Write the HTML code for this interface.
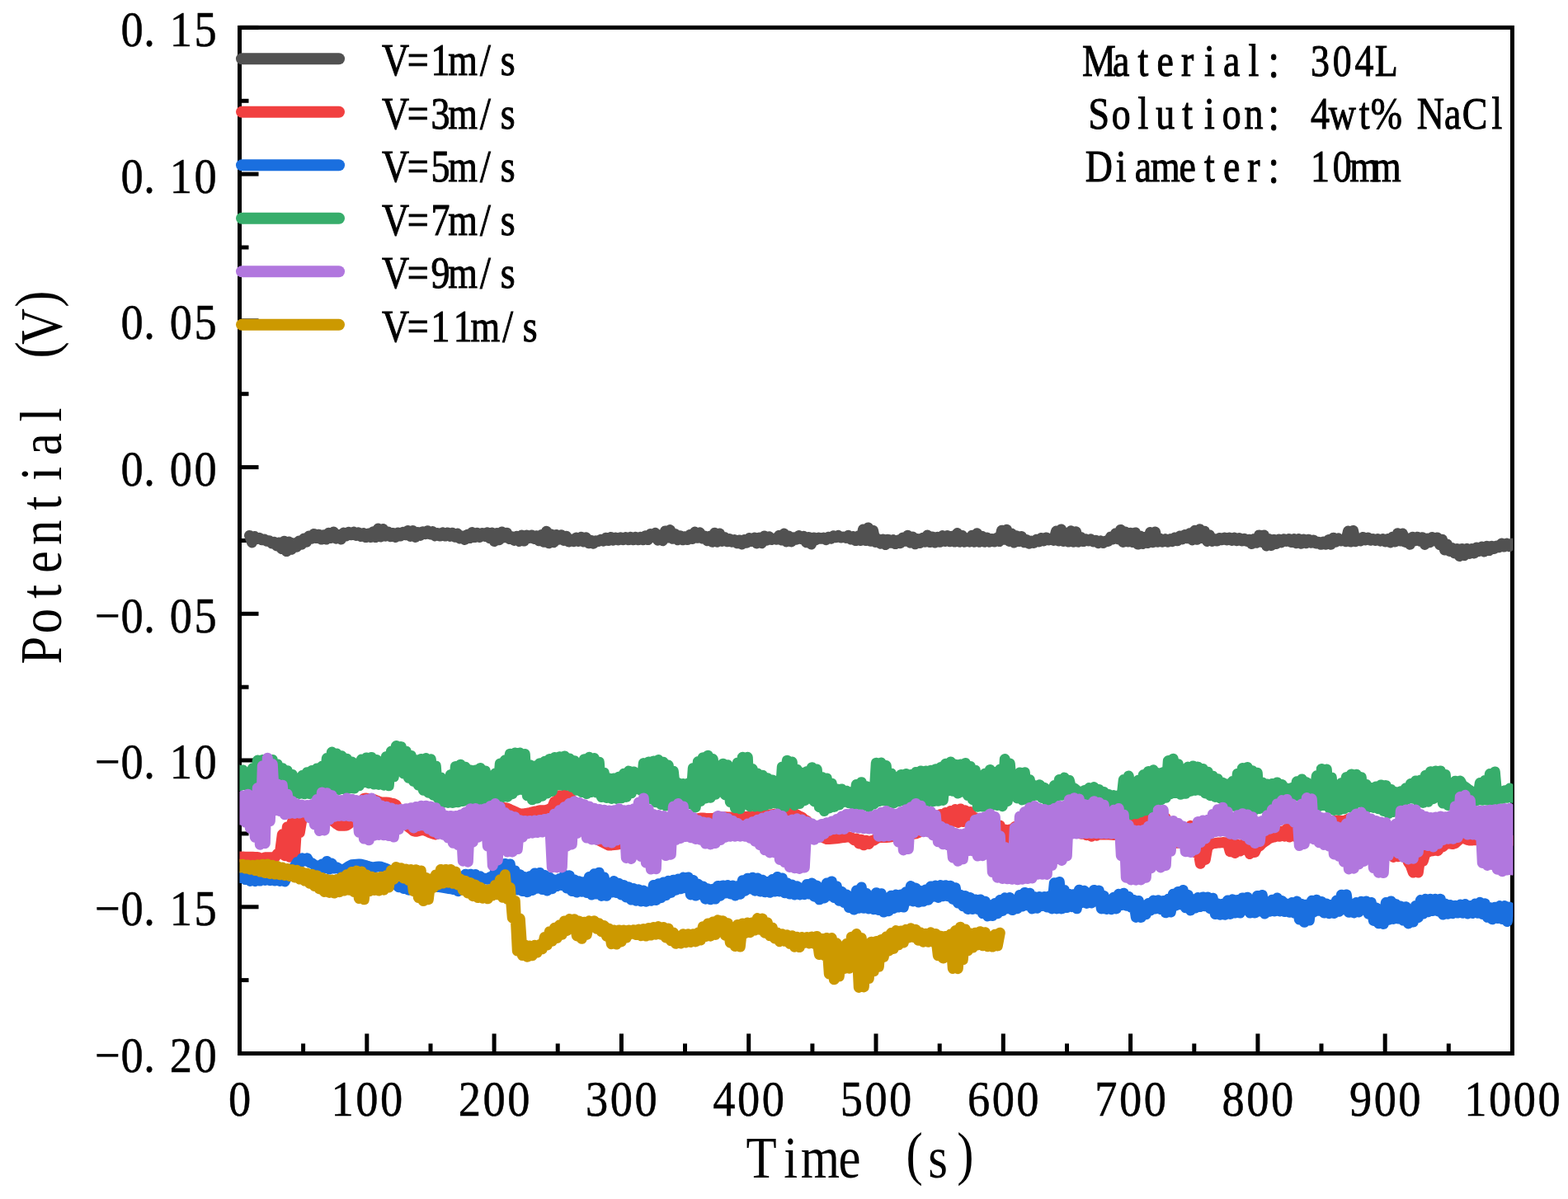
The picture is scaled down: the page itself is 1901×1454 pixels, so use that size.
<!DOCTYPE html>
<html><head><meta charset="utf-8"><title>Potential vs Time</title>
<style>html,body{margin:0;padding:0;background:#fff;overflow:hidden}svg{display:block}</style>
</head><body>
<svg width="1901" height="1454" viewBox="0 0 1901 1454">
<rect width="100%" height="100%" fill="#fff"/>
<rect x="290.5" y="33.4" width="1543.0" height="1244.1" fill="none" stroke="#000" stroke-width="5.0"/>
<line x1="290.5" y1="33.4" x2="313.5" y2="33.4" stroke="#000" stroke-width="5.0"/>
<line x1="290.5" y1="122.3" x2="301.5" y2="122.3" stroke="#000" stroke-width="5.0"/>
<line x1="290.5" y1="211.1" x2="313.5" y2="211.1" stroke="#000" stroke-width="5.0"/>
<line x1="290.5" y1="300.0" x2="301.5" y2="300.0" stroke="#000" stroke-width="5.0"/>
<line x1="290.5" y1="388.9" x2="313.5" y2="388.9" stroke="#000" stroke-width="5.0"/>
<line x1="290.5" y1="477.7" x2="301.5" y2="477.7" stroke="#000" stroke-width="5.0"/>
<line x1="290.5" y1="566.6" x2="313.5" y2="566.6" stroke="#000" stroke-width="5.0"/>
<line x1="290.5" y1="655.5" x2="301.5" y2="655.5" stroke="#000" stroke-width="5.0"/>
<line x1="290.5" y1="744.3" x2="313.5" y2="744.3" stroke="#000" stroke-width="5.0"/>
<line x1="290.5" y1="833.2" x2="301.5" y2="833.2" stroke="#000" stroke-width="5.0"/>
<line x1="290.5" y1="922.0" x2="313.5" y2="922.0" stroke="#000" stroke-width="5.0"/>
<line x1="290.5" y1="1010.9" x2="301.5" y2="1010.9" stroke="#000" stroke-width="5.0"/>
<line x1="290.5" y1="1099.8" x2="313.5" y2="1099.8" stroke="#000" stroke-width="5.0"/>
<line x1="290.5" y1="1188.6" x2="301.5" y2="1188.6" stroke="#000" stroke-width="5.0"/>
<line x1="290.5" y1="1277.5" x2="313.5" y2="1277.5" stroke="#000" stroke-width="5.0"/>
<line x1="290.5" y1="1277.5" x2="290.5" y2="1253.5" stroke="#000" stroke-width="5.0"/>
<line x1="367.6" y1="1277.5" x2="367.6" y2="1265.5" stroke="#000" stroke-width="5.0"/>
<line x1="444.8" y1="1277.5" x2="444.8" y2="1253.5" stroke="#000" stroke-width="5.0"/>
<line x1="522.0" y1="1277.5" x2="522.0" y2="1265.5" stroke="#000" stroke-width="5.0"/>
<line x1="599.1" y1="1277.5" x2="599.1" y2="1253.5" stroke="#000" stroke-width="5.0"/>
<line x1="676.2" y1="1277.5" x2="676.2" y2="1265.5" stroke="#000" stroke-width="5.0"/>
<line x1="753.4" y1="1277.5" x2="753.4" y2="1253.5" stroke="#000" stroke-width="5.0"/>
<line x1="830.5" y1="1277.5" x2="830.5" y2="1265.5" stroke="#000" stroke-width="5.0"/>
<line x1="907.7" y1="1277.5" x2="907.7" y2="1253.5" stroke="#000" stroke-width="5.0"/>
<line x1="984.9" y1="1277.5" x2="984.9" y2="1265.5" stroke="#000" stroke-width="5.0"/>
<line x1="1062.0" y1="1277.5" x2="1062.0" y2="1253.5" stroke="#000" stroke-width="5.0"/>
<line x1="1139.2" y1="1277.5" x2="1139.2" y2="1265.5" stroke="#000" stroke-width="5.0"/>
<line x1="1216.3" y1="1277.5" x2="1216.3" y2="1253.5" stroke="#000" stroke-width="5.0"/>
<line x1="1293.5" y1="1277.5" x2="1293.5" y2="1265.5" stroke="#000" stroke-width="5.0"/>
<line x1="1370.6" y1="1277.5" x2="1370.6" y2="1253.5" stroke="#000" stroke-width="5.0"/>
<line x1="1447.8" y1="1277.5" x2="1447.8" y2="1265.5" stroke="#000" stroke-width="5.0"/>
<line x1="1524.9" y1="1277.5" x2="1524.9" y2="1253.5" stroke="#000" stroke-width="5.0"/>
<line x1="1602.0" y1="1277.5" x2="1602.0" y2="1265.5" stroke="#000" stroke-width="5.0"/>
<line x1="1679.2" y1="1277.5" x2="1679.2" y2="1253.5" stroke="#000" stroke-width="5.0"/>
<line x1="1756.3" y1="1277.5" x2="1756.3" y2="1265.5" stroke="#000" stroke-width="5.0"/>
<line x1="1833.5" y1="1277.5" x2="1833.5" y2="1253.5" stroke="#000" stroke-width="5.0"/>
<defs><clipPath id="pc"><rect x="290.5" y="0" width="1544" height="1454"/></clipPath></defs><g clip-path="url(#pc)">
<polyline points="302.5,649.4 305.5,657.9 308.5,650.4 311.5,653.5 314.5,652.3 317.5,654.8 320.5,654.0 323.5,656.2 326.5,655.7 329.5,658.9 332.5,657.2 335.5,661.9 338.5,657.9 341.5,665.6 344.5,656.2 347.5,668.6 350.5,657.0 353.5,666.2 356.5,658.8 359.5,663.3 362.5,655.9 365.5,660.3 368.5,652.9 371.5,657.3 374.5,649.9 377.5,653.3 380.5,647.4 383.5,652.6 386.5,648.2 389.5,654.1 392.5,648.8 395.5,654.0 398.5,646.2 401.5,652.5 404.5,645.0 407.5,653.2 410.5,648.5 413.5,654.0 416.5,646.1 419.5,650.0 422.5,645.3 425.5,648.8 428.5,645.1 431.5,649.4 434.5,645.8 437.5,650.6 440.5,646.6 443.5,651.6 446.5,647.1 449.5,651.6 452.5,644.7 455.5,651.6 458.5,641.0 461.5,651.1 464.5,641.5 467.5,650.2 470.5,645.0 473.5,650.8 476.5,646.4 479.5,651.5 482.5,646.0 485.5,650.0 488.5,645.3 491.5,648.8 494.5,643.6 497.5,650.4 500.5,643.5 503.5,651.4 506.5,645.6 509.5,649.4 512.5,644.8 515.5,647.7 518.5,643.8 521.5,647.9 524.5,644.5 527.5,649.9 530.5,646.4 533.5,650.1 536.5,645.8 539.5,650.1 542.5,645.9 545.5,650.4 548.5,646.2 551.5,651.3 554.5,647.1 557.5,653.0 560.5,650.1 563.5,654.5 566.5,648.3 569.5,652.6 572.5,645.6 575.5,651.6 578.5,646.3 581.5,651.4 584.5,646.5 587.5,650.4 590.5,645.8 593.5,652.7 596.5,646.1 599.5,656.6 602.5,646.4 605.5,654.7 608.5,644.9 611.5,651.7 614.5,646.3 617.5,653.5 620.5,650.8 623.5,655.4 626.5,650.2 629.5,656.5 632.5,649.1 635.5,656.1 638.5,648.9 641.5,652.6 644.5,648.9 647.5,653.5 650.5,649.7 653.5,655.8 656.5,648.6 659.5,657.3 662.5,644.3 665.5,658.8 668.5,648.0 671.5,657.7 674.5,648.4 677.5,654.2 680.5,648.8 683.5,655.4 686.5,650.2 689.5,657.0 692.5,654.3 695.5,656.7 698.5,652.1 701.5,656.5 704.5,651.2 707.5,657.0 710.5,651.8 713.5,658.8 716.5,655.3 719.5,659.2 722.5,655.8 725.5,656.4 728.5,654.3 731.5,656.0 734.5,652.3 737.5,655.6 740.5,651.4 743.5,655.2 746.5,651.9 749.5,654.9 752.5,651.7 755.5,654.8 758.5,651.4 761.5,654.8 764.5,651.2 767.5,654.8 770.5,651.2 773.5,654.8 776.5,651.2 779.5,654.8 782.5,649.7 785.5,654.6 788.5,647.5 791.5,651.6 794.5,646.3 797.5,655.2 800.5,648.7 803.5,655.7 806.5,643.9 809.5,652.1 812.5,642.6 815.5,653.3 818.5,647.5 821.5,654.8 824.5,649.7 827.5,654.8 830.5,650.8 833.5,654.6 836.5,648.5 839.5,653.4 842.5,645.0 845.5,652.2 848.5,645.8 851.5,653.0 854.5,649.9 857.5,655.7 860.5,650.2 863.5,657.2 866.5,646.2 869.5,657.2 872.5,647.0 875.5,656.4 878.5,651.5 881.5,656.8 884.5,653.4 887.5,657.2 890.5,654.6 893.5,658.8 896.5,655.0 899.5,660.0 902.5,654.4 905.5,658.2 908.5,652.4 911.5,656.5 914.5,652.0 917.5,658.9 920.5,652.0 923.5,658.7 926.5,650.0 929.5,655.2 932.5,650.8 935.5,654.5 938.5,653.3 941.5,654.2 944.5,649.4 947.5,655.0 950.5,647.1 953.5,656.9 956.5,650.1 959.5,656.9 962.5,651.8 965.5,654.3 968.5,649.5 971.5,653.7 974.5,650.3 977.5,657.8 980.5,651.4 983.5,660.0 986.5,651.9 989.5,654.5 992.5,652.0 995.5,653.3 998.5,652.0 1001.5,654.7 1004.5,651.2 1007.5,653.2 1010.5,649.7 1013.5,651.7 1016.5,649.5 1019.5,652.0 1022.5,651.0 1025.5,652.3 1028.5,649.3 1031.5,654.1 1034.5,650.5 1037.5,655.6 1040.5,649.9 1043.5,655.6 1046.5,642.0 1049.5,655.6 1052.5,639.9 1055.5,656.3 1058.5,643.4 1061.5,657.5 1064.5,653.7 1067.5,659.2 1070.5,653.9 1073.5,660.6 1076.5,654.2 1079.5,658.3 1082.5,654.6 1085.5,659.6 1088.5,655.1 1091.5,658.8 1094.5,652.0 1097.5,656.3 1100.5,649.3 1103.5,658.2 1106.5,651.1 1109.5,659.8 1112.5,653.4 1115.5,658.5 1118.5,652.3 1121.5,657.2 1124.5,649.0 1127.5,657.6 1130.5,650.9 1133.5,658.0 1136.5,651.2 1139.5,657.3 1142.5,649.6 1145.5,656.5 1148.5,649.4 1151.5,656.7 1154.5,650.2 1157.5,657.1 1160.5,646.6 1163.5,657.2 1166.5,649.4 1169.5,657.2 1172.5,652.8 1175.5,657.2 1178.5,649.3 1181.5,657.2 1184.5,646.7 1187.5,657.2 1190.5,650.2 1193.5,657.2 1196.5,651.9 1199.5,657.2 1202.5,653.5 1205.5,657.0 1208.5,652.3 1211.5,656.6 1214.5,643.2 1217.5,654.2 1220.5,642.2 1223.5,656.4 1226.5,647.0 1229.5,658.1 1232.5,649.8 1235.5,656.6 1238.5,650.5 1241.5,657.7 1244.5,654.5 1247.5,659.2 1250.5,656.2 1253.5,658.4 1256.5,654.2 1259.5,657.0 1262.5,652.4 1265.5,655.9 1268.5,651.9 1271.5,654.8 1274.5,653.1 1277.5,655.4 1280.5,644.1 1283.5,655.9 1286.5,641.9 1289.5,656.5 1292.5,646.1 1295.5,657.1 1298.5,643.8 1301.5,657.2 1304.5,644.8 1307.5,657.2 1310.5,651.6 1313.5,656.6 1316.5,654.0 1319.5,655.9 1322.5,653.9 1325.5,656.8 1328.5,655.4 1331.5,658.7 1334.5,656.0 1337.5,658.4 1340.5,655.9 1343.5,656.4 1346.5,651.1 1349.5,653.9 1352.5,646.7 1355.5,653.8 1358.5,642.4 1361.5,657.4 1364.5,645.0 1367.5,657.0 1370.5,646.3 1373.5,657.6 1376.5,645.9 1379.5,660.1 1382.5,649.9 1385.5,659.5 1388.5,651.3 1391.5,658.6 1394.5,645.6 1397.5,657.7 1400.5,645.0 1403.5,657.2 1406.5,653.3 1409.5,657.2 1412.5,653.6 1415.5,657.2 1418.5,653.6 1421.5,656.7 1424.5,651.9 1427.5,655.8 1430.5,650.0 1433.5,653.9 1436.5,648.5 1439.5,652.8 1442.5,646.7 1445.5,654.9 1448.5,643.3 1451.5,654.3 1454.5,641.8 1457.5,652.6 1460.5,644.2 1463.5,656.4 1466.5,648.8 1469.5,656.4 1472.5,653.4 1475.5,656.1 1478.5,652.4 1481.5,654.8 1484.5,652.0 1487.5,655.1 1490.5,652.0 1493.5,655.4 1496.5,652.0 1499.5,655.7 1502.5,652.6 1505.5,656.1 1508.5,653.2 1511.5,656.4 1514.5,654.2 1517.5,659.6 1520.5,653.4 1523.5,658.3 1526.5,648.9 1529.5,657.4 1532.5,648.9 1535.5,661.9 1538.5,653.6 1541.5,661.5 1544.5,654.2 1547.5,659.4 1550.5,653.9 1553.5,657.9 1556.5,653.7 1559.5,656.4 1562.5,653.6 1565.5,657.5 1568.5,653.6 1571.5,658.7 1574.5,653.6 1577.5,659.3 1580.5,653.9 1583.5,658.7 1586.5,654.2 1589.5,658.2 1592.5,654.9 1595.5,659.0 1598.5,657.3 1601.5,660.3 1604.5,657.0 1607.5,660.3 1610.5,654.6 1613.5,660.2 1616.5,652.2 1619.5,657.2 1622.5,652.8 1625.5,655.9 1628.5,655.0 1631.5,656.7 1634.5,644.1 1637.5,657.1 1640.5,643.4 1643.5,656.7 1646.5,654.4 1649.5,656.0 1652.5,651.4 1655.5,654.9 1658.5,652.1 1661.5,655.2 1664.5,653.6 1667.5,655.5 1670.5,653.6 1673.5,656.1 1676.5,653.6 1679.5,657.0 1682.5,653.6 1685.5,657.9 1688.5,651.0 1691.5,657.0 1694.5,646.7 1697.5,656.0 1700.5,647.0 1703.5,657.4 1706.5,652.7 1709.5,660.3 1712.5,651.2 1715.5,655.8 1718.5,651.2 1721.5,656.3 1724.5,651.7 1727.5,660.4 1730.5,653.0 1733.5,657.8 1736.5,651.5 1739.5,655.9 1742.5,651.9 1745.5,660.7 1748.5,654.2 1751.5,666.9 1754.5,659.9 1757.5,668.5 1760.5,664.6 1763.5,670.9 1766.5,665.4 1769.5,674.5 1772.5,665.4 1775.5,673.6 1778.5,665.3 1781.5,671.4 1784.5,665.4 1787.5,670.9 1790.5,663.9 1793.5,668.4 1796.5,662.9 1799.5,669.0 1802.5,662.3 1805.5,667.5 1808.5,662.3 1811.5,665.5 1814.5,662.2 1817.5,663.8 1820.5,659.1 1823.5,663.0 1826.5,659.1 1829.5,662.7 1832.5,659.1" fill="none" stroke="#515151" stroke-width="13.0" stroke-linejoin="round" stroke-linecap="round"/>
<polyline points="288.3,1039.0 291.3,1039.1 294.3,1039.1 297.3,1039.2 300.3,1039.2 303.3,1039.3 306.3,1039.3 309.3,1039.4 312.3,1039.4 315.3,1040.9 318.3,1041.0 321.3,1039.8 324.3,1039.8 327.3,1039.8 330.3,1039.8 333.3,1039.8 336.3,1035.4 339.3,1034.8 342.3,1011.8 345.3,1037.7 348.3,1002.7 351.3,1039.3 354.3,996.6 357.3,1039.3 360.3,992.6 363.3,1009.7 366.3,991.8 369.3,990.5 372.3,990.5 375.3,991.2 378.3,990.4 381.3,989.2 384.3,988.0 387.3,986.8 390.3,984.7 393.3,988.1 396.3,989.3 399.3,992.2 402.3,994.5 405.3,996.9 408.3,999.3 411.3,1001.2 414.3,1001.2 417.3,1001.2 420.3,1001.0 423.3,998.9 426.3,993.8 429.3,991.5 432.3,984.3 435.3,979.6 438.3,971.8 441.3,968.2 444.3,968.1 447.3,968.4 450.3,968.6 453.3,969.5 456.3,970.7 459.3,972.0 462.3,972.9 465.3,973.0 468.3,973.1 471.3,973.2 474.3,974.0 477.3,974.7 480.3,976.1 483.3,983.6 486.3,991.1 489.3,998.2 492.3,1000.5 495.3,1002.9 498.3,1005.2 501.3,1007.6 504.3,1008.3 507.3,1007.6 510.3,1007.0 513.3,1006.3 516.3,1007.6 519.3,1008.9 522.3,1010.1 525.3,1011.2 528.3,1012.0 531.3,1010.9 534.3,1007.7 537.3,1004.5 540.3,1001.3 543.3,999.7 546.3,998.2 549.3,996.7 552.3,995.2 555.3,993.7 558.3,992.7 561.3,991.8 564.3,990.9 567.3,990.0 570.3,989.1 573.3,988.5 576.3,987.9 579.3,987.3 582.3,986.7 585.3,986.1 588.3,985.3 591.3,984.4 594.3,983.6 597.3,982.7 600.3,981.9 603.3,981.0 606.3,980.2 609.3,979.3 612.3,979.6 615.3,980.4 618.3,981.6 621.3,982.9 624.3,984.3 627.3,985.6 630.3,987.0 633.3,987.1 636.3,986.6 639.3,986.1 642.3,985.5 645.3,984.8 648.3,984.1 651.3,983.5 654.3,982.8 657.3,982.8 660.3,982.8 663.3,982.2 666.3,981.0 669.3,979.5 672.3,972.1 675.3,971.8 678.3,964.7 681.3,971.8 684.3,963.7 687.3,971.3 690.3,964.7 693.3,970.6 696.3,973.0 699.3,988.8 702.3,994.1 705.3,1007.0 708.3,1008.9 711.3,1010.7 714.3,1012.5 717.3,1014.3 720.3,1016.1 723.3,1017.6 726.3,1019.1 729.3,1020.6 732.3,1022.1 735.3,1023.6 738.3,1025.1 741.3,1024.9 744.3,1024.5 747.3,1024.2 750.3,1023.8 753.3,1021.6 756.3,1019.0 759.3,1016.5 762.3,1015.2 765.3,1014.2 768.3,1013.1 771.3,1012.0 774.3,1011.0 777.3,1009.9 780.3,1008.9 783.3,1008.0 786.3,1007.3 789.3,1006.5 792.3,1005.8 795.3,1005.0 798.3,1004.3 801.3,1003.5 804.3,1002.8 807.3,1002.0 810.3,1001.3 813.3,1000.5 816.3,999.8 819.3,999.1 822.3,998.4 825.3,997.7 828.3,996.9 831.3,996.2 834.3,995.5 837.3,994.8 840.3,994.0 843.3,993.3 846.3,992.6 849.3,992.0 852.3,992.1 855.3,992.3 858.3,992.4 861.3,992.6 864.3,992.6 867.3,991.5 870.3,990.5 873.3,990.6 876.3,990.7 879.3,990.8 882.3,990.9 885.3,991.0 888.3,991.1 891.3,991.2 894.3,991.1 897.3,990.9 900.3,990.7 903.3,990.5 906.3,990.3 909.3,990.1 912.3,989.9 915.3,989.7 918.3,989.4 921.3,989.1 924.3,988.8 927.3,988.5 930.3,988.2 933.3,987.9 936.3,987.6 939.3,987.3 942.3,987.0 945.3,986.7 948.3,986.4 951.3,986.1 954.3,985.8 957.3,985.5 960.3,985.2 963.3,986.6 966.3,988.2 969.3,989.9 972.3,991.0 975.3,994.1 978.3,995.3 981.3,1001.0 984.3,1002.5 987.3,1008.2 990.3,1009.8 993.3,1013.4 996.3,1014.7 999.3,1016.3 1002.3,1017.6 1005.3,1017.4 1008.3,1017.2 1011.3,1017.0 1014.3,1016.8 1017.3,1016.4 1020.3,1015.9 1023.3,1015.5 1026.3,1015.0 1029.3,1014.8 1032.3,1015.8 1035.3,1018.7 1038.3,1017.0 1041.3,1022.9 1044.3,1018.2 1047.3,1024.8 1050.3,1019.3 1053.3,1023.4 1056.3,1019.6 1059.3,1019.1 1062.3,1017.1 1065.3,1015.7 1068.3,1015.4 1071.3,1015.4 1074.3,1015.4 1077.3,1015.2 1080.3,1014.8 1083.3,1014.4 1086.3,1014.1 1089.3,1013.7 1092.3,1013.3 1095.3,1012.9 1098.3,1012.5 1101.3,1012.1 1104.3,1011.7 1107.3,1011.3 1110.3,1010.9 1113.3,1009.7 1116.3,1008.5 1119.3,1007.3 1122.3,1006.1 1125.3,1005.1 1128.3,999.9 1131.3,998.3 1134.3,989.9 1137.3,994.5 1140.3,987.5 1143.3,994.5 1146.3,985.5 1149.3,995.5 1152.3,983.5 1155.3,996.5 1158.3,981.5 1161.3,997.5 1164.3,981.0 1167.3,996.5 1170.3,982.8 1173.3,995.3 1176.3,984.6 1179.3,994.5 1182.3,991.5 1185.3,995.0 1188.3,993.5 1191.3,996.2 1194.3,994.6 1197.3,997.4 1200.3,996.0 1203.3,1002.8 1206.3,997.5 1209.3,1008.7 1212.3,1001.0 1215.3,1016.0 1218.3,1006.0 1221.3,1017.2 1224.3,1006.0 1227.3,1016.3 1230.3,1002.6 1233.3,1005.9 1236.3,999.5 1239.3,1003.5 1242.3,997.1 1245.3,1001.1 1248.3,997.7 1251.3,1004.8 1254.3,1005.9 1257.3,1010.3 1260.3,1013.1 1263.3,1012.9 1266.3,1012.7 1269.3,1012.5 1272.3,1012.3 1275.3,1012.1 1278.3,1011.9 1281.3,1011.7 1284.3,1011.6 1287.3,1011.4 1290.3,1011.2 1293.3,1011.1 1296.3,1010.9 1299.3,1010.7 1302.3,1010.4 1305.3,1010.2 1308.3,1010.4 1311.3,1011.2 1314.3,1009.9 1317.3,1012.7 1320.3,1009.4 1323.3,1014.2 1326.3,1009.6 1329.3,1013.2 1332.3,1010.6 1335.3,1012.0 1338.3,1011.9 1341.3,1012.0 1344.3,1012.1 1347.3,1012.3 1350.3,1012.4 1353.3,1011.5 1356.3,1010.5 1359.3,1009.4 1362.3,1008.3 1365.3,1007.3 1368.3,1004.1 1371.3,1000.4 1374.3,998.8 1377.3,997.8 1380.3,996.7 1383.3,995.9 1386.3,995.2 1389.3,994.4 1392.3,993.7 1395.3,993.8 1398.3,994.2 1401.3,994.6 1404.3,994.7 1407.3,993.2 1410.3,991.7 1413.3,992.0 1416.3,1000.9 1419.3,1009.9 1422.3,1018.9 1425.3,1022.2 1428.3,1022.2 1431.3,1022.2 1434.3,1018.1 1437.3,1011.1 1440.3,1004.1 1443.3,1001.6 1446.3,1004.2 1449.3,1034.0 1452.3,1029.0 1455.3,1047.3 1458.3,1028.0 1461.3,1042.4 1464.3,1025.5 1467.3,1024.7 1470.3,1022.7 1473.3,1022.5 1476.3,1022.1 1479.3,1021.9 1482.3,1021.6 1485.3,1021.8 1488.3,1021.8 1491.3,1032.7 1494.3,1023.0 1497.3,1034.5 1500.3,1024.2 1503.3,1032.1 1506.3,1024.2 1509.3,1030.4 1512.3,1024.9 1515.3,1035.5 1518.3,1026.0 1521.3,1033.5 1524.3,1027.1 1527.3,1026.0 1530.3,1022.7 1533.3,1020.5 1536.3,1018.5 1539.3,1016.4 1542.3,1015.5 1545.3,1014.8 1548.3,1013.8 1551.3,1014.2 1554.3,1008.1 1557.3,1014.2 1560.3,1004.9 1563.3,1015.1 1566.3,1005.9 1569.3,1014.2 1572.3,1009.6 1575.3,1010.9 1578.3,1010.6 1581.3,1010.1 1584.3,1009.6 1587.3,1009.2 1590.3,1008.7 1593.3,1006.9 1596.3,1004.5 1599.3,1002.1 1602.3,999.7 1605.3,997.3 1608.3,996.3 1611.3,996.0 1614.3,995.7 1617.3,995.4 1620.3,995.1 1623.3,995.1 1626.3,995.4 1629.3,995.9 1632.3,994.5 1635.3,992.8 1638.3,996.8 1641.3,1005.9 1644.3,1013.2 1647.3,1017.4 1650.3,1015.6 1653.3,1018.1 1656.3,1016.2 1659.3,1018.7 1662.3,1017.5 1665.3,1020.9 1668.3,1019.9 1671.3,1023.2 1674.3,1022.3 1677.3,1027.5 1680.3,1027.8 1683.3,1035.6 1686.3,1031.8 1689.3,1039.4 1692.3,1032.8 1695.3,1038.7 1698.3,1035.4 1701.3,1039.2 1704.3,1037.4 1707.3,1045.3 1710.3,1049.7 1713.3,1058.1 1716.3,1045.1 1719.3,1058.1 1722.3,1036.6 1725.3,1044.1 1728.3,1033.7 1731.3,1033.2 1734.3,1031.9 1737.3,1031.7 1740.3,1031.0 1743.3,1031.6 1746.3,1026.9 1749.3,1026.9 1752.3,1023.7 1755.3,1022.5 1758.3,1023.0 1761.3,1023.5 1764.3,1022.6 1767.3,1019.8 1770.3,1017.1 1773.3,1015.9 1776.3,1017.2 1779.3,1018.4 1782.3,1019.1 1785.3,1018.9 1788.3,1018.6 1791.3,1018.8 1794.3,1019.0 1797.3,1019.2 1800.3,1019.2 1803.3,1019.2 1806.3,1019.2 1809.3,1019.2 1812.3,1019.2 1815.3,1019.2 1818.3,1019.2 1821.3,1019.2 1824.3,1019.2 1827.3,1019.2 1830.3,1019.2 1833.3,1019.2" fill="none" stroke="#F14040" stroke-width="13.0" stroke-linejoin="round" stroke-linecap="round"/>
<polyline points="288.3,1062.9 291.3,1064.6 294.3,1064.0 297.3,1066.5 300.3,1065.2 303.3,1068.4 306.3,1066.0 309.3,1068.5 312.3,1066.0 315.3,1068.0 318.3,1066.0 321.3,1067.4 324.3,1065.9 327.3,1067.6 330.3,1065.5 333.3,1068.0 336.3,1065.1 339.3,1068.5 342.3,1064.7 345.3,1068.9 348.3,1062.4 351.3,1062.3 354.3,1054.5 357.3,1050.5 360.3,1045.6 363.3,1047.1 366.3,1040.8 369.3,1044.1 372.3,1040.7 375.3,1045.8 378.3,1046.9 381.3,1049.0 384.3,1050.3 387.3,1050.2 390.3,1048.1 393.3,1052.9 396.3,1044.4 399.3,1054.1 402.3,1047.1 405.3,1053.1 408.3,1051.8 411.3,1053.6 414.3,1055.0 417.3,1054.0 420.3,1052.2 423.3,1050.3 426.3,1048.8 429.3,1048.5 432.3,1048.2 435.3,1047.9 438.3,1048.3 441.3,1049.1 444.3,1049.9 447.3,1050.8 450.3,1051.6 453.3,1051.7 456.3,1051.3 459.3,1050.9 462.3,1051.3 465.3,1052.3 468.3,1053.3 471.3,1055.0 474.3,1060.6 477.3,1068.6 480.3,1072.7 483.3,1075.7 486.3,1073.9 489.3,1077.5 492.3,1075.0 495.3,1079.2 498.3,1075.6 501.3,1077.4 504.3,1075.6 507.3,1075.6 510.3,1075.2 513.3,1075.2 516.3,1075.2 519.3,1075.2 522.3,1075.2 525.3,1075.2 528.3,1075.2 531.3,1075.4 534.3,1075.9 537.3,1076.4 540.3,1076.9 543.3,1077.5 546.3,1077.7 549.3,1078.4 552.3,1076.5 555.3,1080.7 558.3,1066.3 561.3,1077.8 564.3,1060.2 567.3,1073.6 570.3,1060.2 573.3,1069.4 576.3,1060.4 579.3,1067.3 582.3,1062.8 585.3,1066.7 588.3,1065.2 591.3,1066.3 594.3,1063.5 597.3,1067.2 600.3,1056.9 603.3,1068.4 606.3,1050.2 609.3,1070.5 612.3,1047.5 615.3,1074.6 618.3,1048.0 621.3,1077.1 624.3,1055.9 627.3,1079.0 630.3,1060.6 633.3,1080.5 636.3,1063.6 639.3,1081.7 642.3,1062.8 645.3,1079.5 648.3,1059.0 651.3,1077.2 654.3,1058.4 657.3,1078.6 660.3,1061.4 663.3,1080.1 666.3,1064.2 669.3,1077.7 672.3,1066.9 675.3,1074.6 678.3,1065.6 681.3,1073.5 684.3,1061.1 687.3,1077.1 690.3,1061.8 693.3,1080.6 696.3,1066.9 699.3,1082.1 702.3,1068.8 705.3,1081.2 708.3,1069.6 711.3,1082.6 714.3,1063.6 717.3,1085.1 720.3,1059.8 723.3,1084.1 726.3,1058.2 729.3,1086.4 732.3,1064.0 735.3,1086.3 738.3,1070.9 741.3,1082.1 744.3,1068.6 747.3,1082.6 750.3,1071.2 753.3,1085.1 756.3,1073.6 759.3,1088.1 762.3,1075.8 765.3,1091.1 768.3,1077.6 771.3,1092.2 774.3,1078.8 777.3,1093.0 780.3,1080.1 783.3,1093.2 786.3,1082.8 789.3,1092.3 792.3,1073.4 795.3,1091.5 798.3,1071.8 801.3,1088.7 804.3,1070.0 807.3,1085.7 810.3,1068.3 813.3,1082.4 816.3,1067.2 819.3,1079.2 822.3,1066.0 825.3,1077.8 828.3,1064.1 831.3,1076.5 834.3,1063.9 837.3,1084.9 840.3,1067.4 843.3,1086.1 846.3,1072.0 849.3,1084.8 852.3,1075.0 855.3,1090.2 858.3,1077.7 861.3,1090.8 864.3,1078.2 867.3,1090.1 870.3,1074.5 873.3,1086.2 876.3,1073.9 879.3,1083.1 882.3,1073.4 885.3,1083.9 888.3,1073.9 891.3,1086.0 894.3,1074.6 897.3,1084.3 900.3,1067.7 903.3,1080.2 906.3,1065.2 909.3,1077.7 912.3,1064.2 915.3,1080.2 918.3,1065.0 921.3,1081.0 924.3,1067.2 927.3,1081.8 930.3,1069.5 933.3,1082.3 936.3,1066.5 939.3,1081.1 942.3,1063.5 945.3,1080.9 948.3,1064.9 951.3,1082.8 954.3,1070.7 957.3,1084.1 960.3,1073.1 963.3,1084.9 966.3,1074.8 969.3,1084.9 972.3,1076.7 975.3,1084.7 978.3,1072.4 981.3,1084.1 984.3,1071.1 987.3,1087.2 990.3,1074.0 993.3,1090.8 996.3,1076.7 999.3,1088.9 1002.3,1071.0 1005.3,1085.9 1008.3,1068.9 1011.3,1088.4 1014.3,1074.9 1017.3,1092.2 1020.3,1081.2 1023.3,1094.6 1026.3,1085.0 1029.3,1100.5 1032.3,1088.0 1035.3,1103.1 1038.3,1080.0 1041.3,1101.3 1044.3,1076.0 1047.3,1101.3 1050.3,1083.4 1053.3,1101.9 1056.3,1088.6 1059.3,1102.7 1062.3,1082.7 1065.3,1103.6 1068.3,1083.7 1071.3,1106.1 1074.3,1093.3 1077.3,1104.7 1080.3,1086.2 1083.3,1101.6 1086.3,1085.1 1089.3,1100.1 1092.3,1085.1 1095.3,1100.1 1098.3,1081.7 1101.3,1092.2 1104.3,1074.6 1107.3,1092.9 1110.3,1077.1 1113.3,1094.0 1116.3,1080.6 1119.3,1093.1 1122.3,1078.9 1125.3,1091.3 1128.3,1075.0 1131.3,1087.3 1134.3,1074.1 1137.3,1088.4 1140.3,1073.6 1143.3,1086.7 1146.3,1073.7 1149.3,1086.8 1152.3,1074.2 1155.3,1090.4 1158.3,1076.7 1161.3,1094.9 1164.3,1085.2 1167.3,1098.7 1170.3,1086.5 1173.3,1102.5 1176.3,1088.5 1179.3,1102.5 1182.3,1090.9 1185.3,1102.5 1188.3,1090.9 1191.3,1107.6 1194.3,1093.2 1197.3,1110.9 1200.3,1097.5 1203.3,1110.4 1206.3,1095.4 1209.3,1107.8 1212.3,1091.6 1215.3,1104.5 1218.3,1088.8 1221.3,1101.7 1224.3,1088.5 1227.3,1103.6 1230.3,1091.4 1233.3,1101.8 1236.3,1085.4 1239.3,1099.1 1242.3,1082.4 1245.3,1097.8 1248.3,1083.2 1251.3,1101.9 1254.3,1087.5 1257.3,1101.3 1260.3,1087.5 1263.3,1098.5 1266.3,1087.5 1269.3,1099.9 1272.3,1086.7 1275.3,1101.9 1278.3,1070.7 1281.3,1101.9 1284.3,1069.4 1287.3,1101.9 1290.3,1079.4 1293.3,1100.5 1296.3,1084.4 1299.3,1099.7 1302.3,1084.6 1305.3,1101.8 1308.3,1079.2 1311.3,1094.6 1314.3,1080.2 1317.3,1095.4 1320.3,1083.2 1323.3,1095.0 1326.3,1079.4 1329.3,1092.8 1332.3,1080.0 1335.3,1101.9 1338.3,1086.4 1341.3,1102.5 1344.3,1092.1 1347.3,1102.7 1350.3,1088.2 1353.3,1102.0 1356.3,1084.3 1359.3,1097.6 1362.3,1083.2 1365.3,1098.2 1368.3,1087.3 1371.3,1100.2 1374.3,1091.3 1377.3,1112.4 1380.3,1092.5 1383.3,1112.4 1386.3,1097.8 1389.3,1108.8 1392.3,1095.6 1395.3,1103.9 1398.3,1092.1 1401.3,1101.9 1404.3,1091.7 1407.3,1102.6 1410.3,1092.5 1413.3,1106.8 1416.3,1090.3 1419.3,1106.1 1422.3,1084.2 1425.3,1098.1 1428.3,1081.4 1431.3,1096.8 1434.3,1079.5 1437.3,1100.7 1440.3,1085.4 1443.3,1103.9 1446.3,1090.5 1449.3,1100.9 1452.3,1088.5 1455.3,1099.4 1458.3,1087.9 1461.3,1098.8 1464.3,1088.0 1467.3,1101.9 1470.3,1089.2 1473.3,1108.6 1476.3,1095.8 1479.3,1109.2 1482.3,1096.2 1485.3,1109.2 1488.3,1092.0 1491.3,1108.4 1494.3,1090.8 1497.3,1107.1 1500.3,1091.5 1503.3,1107.1 1506.3,1088.9 1509.3,1103.0 1512.3,1088.2 1515.3,1107.1 1518.3,1092.2 1521.3,1107.0 1524.3,1086.5 1527.3,1105.0 1530.3,1085.4 1533.3,1108.0 1536.3,1093.7 1539.3,1105.3 1542.3,1091.2 1545.3,1105.0 1548.3,1089.0 1551.3,1105.0 1554.3,1092.6 1557.3,1105.6 1560.3,1096.1 1563.3,1106.3 1566.3,1094.6 1569.3,1107.1 1572.3,1093.1 1575.3,1115.1 1578.3,1096.5 1581.3,1118.3 1584.3,1097.1 1587.3,1116.1 1590.3,1092.3 1593.3,1105.8 1596.3,1091.3 1599.3,1104.2 1602.3,1093.5 1605.3,1107.1 1608.3,1096.1 1611.3,1107.7 1614.3,1097.3 1617.3,1107.6 1620.3,1092.1 1623.3,1105.3 1626.3,1085.2 1629.3,1102.8 1632.3,1084.9 1635.3,1106.3 1638.3,1096.4 1641.3,1106.9 1644.3,1094.6 1647.3,1106.0 1650.3,1093.3 1653.3,1102.6 1656.3,1093.0 1659.3,1108.4 1662.3,1094.4 1665.3,1116.4 1668.3,1101.0 1671.3,1119.8 1674.3,1102.7 1677.3,1120.4 1680.3,1094.5 1683.3,1115.4 1686.3,1092.9 1689.3,1114.4 1692.3,1096.6 1695.3,1114.0 1698.3,1099.0 1701.3,1116.1 1704.3,1099.7 1707.3,1119.9 1710.3,1105.1 1713.3,1117.9 1716.3,1098.4 1719.3,1112.7 1722.3,1091.6 1725.3,1108.2 1728.3,1090.3 1731.3,1105.8 1734.3,1090.3 1737.3,1104.5 1740.3,1090.3 1743.3,1104.9 1746.3,1090.3 1749.3,1109.1 1752.3,1096.2 1755.3,1108.3 1758.3,1097.6 1761.3,1107.7 1764.3,1098.3 1767.3,1107.1 1770.3,1097.1 1773.3,1107.3 1776.3,1096.6 1779.3,1108.0 1782.3,1098.4 1785.3,1107.5 1788.3,1096.0 1791.3,1107.2 1794.3,1094.3 1797.3,1108.6 1800.3,1095.8 1803.3,1112.3 1806.3,1100.5 1809.3,1114.8 1812.3,1100.2 1815.3,1113.6 1818.3,1098.6 1821.3,1114.6 1824.3,1098.6 1827.3,1117.5 1830.3,1100.1" fill="none" stroke="#1A6FDF" stroke-width="13.0" stroke-linejoin="round" stroke-linecap="round"/>
<polyline points="288.3,933.6 291.3,952.7 294.3,934.0 297.3,951.8 300.3,946.2 303.3,952.6 306.3,931.8 309.3,965.8 312.3,922.1 315.3,962.2 318.3,921.5 321.3,958.0 324.3,921.5 327.3,953.8 330.3,921.5 333.3,952.5 336.3,926.9 339.3,954.3 342.3,931.6 345.3,957.7 348.3,934.8 351.3,960.9 354.3,939.4 357.3,961.7 360.3,944.6 363.3,962.4 366.3,940.6 369.3,962.8 372.3,936.7 375.3,962.6 378.3,934.4 381.3,961.1 384.3,931.9 387.3,954.2 390.3,929.3 393.3,950.5 396.3,919.4 399.3,951.4 402.3,912.1 405.3,954.4 408.3,914.0 411.3,957.5 414.3,916.8 417.3,956.7 420.3,920.2 423.3,956.1 426.3,923.9 429.3,956.1 432.3,925.8 435.3,952.8 438.3,921.1 441.3,948.7 444.3,918.9 447.3,949.9 450.3,918.5 453.3,951.0 456.3,921.4 459.3,951.4 462.3,923.5 465.3,952.2 468.3,917.5 471.3,952.7 474.3,911.1 477.3,941.9 480.3,904.6 483.3,934.8 486.3,905.6 489.3,938.1 492.3,911.1 495.3,943.2 498.3,916.4 501.3,947.5 504.3,921.6 507.3,952.3 510.3,920.5 513.3,958.2 516.3,919.6 519.3,961.2 522.3,920.7 525.3,964.2 528.3,929.1 531.3,968.4 534.3,943.0 537.3,973.2 540.3,947.2 543.3,973.4 546.3,939.4 549.3,973.4 552.3,929.4 555.3,972.8 558.3,927.2 561.3,971.6 564.3,930.3 567.3,970.4 570.3,934.0 573.3,970.3 576.3,933.9 579.3,971.2 582.3,931.4 585.3,971.3 588.3,934.9 591.3,969.5 594.3,944.1 597.3,964.5 600.3,938.0 603.3,965.6 606.3,925.9 609.3,966.7 612.3,921.8 615.3,966.2 618.3,914.2 621.3,962.7 624.3,913.0 627.3,958.2 630.3,913.0 633.3,957.6 636.3,914.4 639.3,964.8 642.3,927.8 645.3,969.8 648.3,929.1 651.3,968.1 654.3,925.7 657.3,965.3 660.3,923.3 663.3,962.1 666.3,920.4 669.3,959.4 672.3,918.6 675.3,952.2 678.3,917.8 681.3,952.2 684.3,916.9 687.3,952.2 690.3,919.9 693.3,954.3 696.3,922.8 699.3,958.2 702.3,925.7 705.3,960.4 708.3,920.8 711.3,962.6 714.3,918.3 717.3,960.5 720.3,919.4 723.3,961.0 726.3,924.2 729.3,966.5 732.3,937.1 735.3,967.6 738.3,944.0 741.3,968.5 744.3,944.0 747.3,968.4 750.3,942.2 753.3,967.8 756.3,938.2 759.3,966.4 762.3,935.1 765.3,961.7 768.3,935.9 771.3,956.8 774.3,938.8 777.3,958.6 780.3,925.6 783.3,963.8 786.3,923.9 789.3,968.7 792.3,923.0 795.3,972.8 798.3,921.5 801.3,975.4 804.3,924.3 807.3,977.1 810.3,928.1 813.3,972.6 816.3,935.2 819.3,962.8 822.3,949.6 825.3,962.8 828.3,950.6 831.3,968.6 834.3,950.1 837.3,974.9 840.3,931.5 843.3,979.0 846.3,923.5 849.3,971.6 852.3,918.7 855.3,968.1 858.3,916.2 861.3,967.3 864.3,920.5 867.3,963.3 870.3,928.8 873.3,958.6 876.3,926.3 879.3,963.9 882.3,927.8 885.3,972.5 888.3,949.4 891.3,979.7 894.3,924.9 897.3,980.8 900.3,918.3 903.3,972.4 906.3,918.3 909.3,977.9 912.3,932.6 915.3,977.9 918.3,937.9 921.3,977.9 924.3,940.2 927.3,976.6 930.3,943.7 933.3,974.8 936.3,946.0 939.3,973.9 942.3,947.0 945.3,976.2 948.3,929.9 951.3,978.6 954.3,922.2 957.3,969.3 960.3,924.1 963.3,976.4 966.3,933.2 969.3,974.5 972.3,937.2 975.3,970.7 978.3,935.5 981.3,968.2 984.3,930.7 987.3,971.9 990.3,933.1 993.3,978.7 996.3,942.6 999.3,983.6 1002.3,944.0 1005.3,979.9 1008.3,950.3 1011.3,978.4 1014.3,956.9 1017.3,975.9 1020.3,956.9 1023.3,972.4 1026.3,959.2 1029.3,973.7 1032.3,960.4 1035.3,976.0 1038.3,951.4 1041.3,975.4 1044.3,948.7 1047.3,976.9 1050.3,953.6 1053.3,978.5 1056.3,963.4 1059.3,975.1 1062.3,925.2 1065.3,971.8 1068.3,925.0 1071.3,970.8 1074.3,928.6 1077.3,972.8 1080.3,938.1 1083.3,973.9 1086.3,942.5 1089.3,971.8 1092.3,939.4 1095.3,971.0 1098.3,938.4 1101.3,969.3 1104.3,939.5 1107.3,965.3 1110.3,936.5 1113.3,966.3 1116.3,934.9 1119.3,969.0 1122.3,934.9 1125.3,971.7 1128.3,934.2 1131.3,971.8 1134.3,932.7 1137.3,971.3 1140.3,930.6 1143.3,970.4 1146.3,926.3 1149.3,959.0 1152.3,924.1 1155.3,959.2 1158.3,927.1 1161.3,962.0 1164.3,927.0 1167.3,959.9 1170.3,925.5 1173.3,964.5 1176.3,929.4 1179.3,969.7 1182.3,934.3 1185.3,978.3 1188.3,942.4 1191.3,978.1 1194.3,938.0 1197.3,976.6 1200.3,933.4 1203.3,976.4 1206.3,936.6 1209.3,976.5 1212.3,933.1 1215.3,977.7 1218.3,920.6 1221.3,971.7 1224.3,926.0 1227.3,963.2 1230.3,939.0 1233.3,967.9 1236.3,937.0 1239.3,969.9 1242.3,936.7 1245.3,969.1 1248.3,945.6 1251.3,965.3 1254.3,952.5 1257.3,964.3 1260.3,951.8 1263.3,967.5 1266.3,955.3 1269.3,970.9 1272.3,959.6 1275.3,969.6 1278.3,952.5 1281.3,965.2 1284.3,945.4 1287.3,964.3 1290.3,943.1 1293.3,961.3 1296.3,946.4 1299.3,958.2 1302.3,955.9 1305.3,958.3 1308.3,960.9 1311.3,964.2 1314.3,958.6 1317.3,970.1 1320.3,955.6 1323.3,963.0 1326.3,954.6 1329.3,962.8 1332.3,957.5 1335.3,964.8 1338.3,960.4 1341.3,969.2 1344.3,963.5 1347.3,973.6 1350.3,964.6 1353.3,971.2 1356.3,964.5 1359.3,973.3 1362.3,945.5 1365.3,980.5 1368.3,941.0 1371.3,987.7 1374.3,948.7 1377.3,986.7 1380.3,945.9 1383.3,984.7 1386.3,939.6 1389.3,982.7 1392.3,935.5 1395.3,979.9 1398.3,933.8 1401.3,975.2 1404.3,937.8 1407.3,969.8 1410.3,936.6 1413.3,967.2 1416.3,922.6 1419.3,962.7 1422.3,920.2 1425.3,961.5 1428.3,926.7 1431.3,963.2 1434.3,936.7 1437.3,962.3 1440.3,930.1 1443.3,959.4 1446.3,928.9 1449.3,958.4 1452.3,930.1 1455.3,958.4 1458.3,932.4 1461.3,962.0 1464.3,936.3 1467.3,964.7 1470.3,941.1 1473.3,966.4 1476.3,944.7 1479.3,967.9 1482.3,949.2 1485.3,970.3 1488.3,951.0 1491.3,977.6 1494.3,947.6 1497.3,977.6 1500.3,938.3 1503.3,976.4 1506.3,931.6 1509.3,976.7 1512.3,930.4 1515.3,977.9 1518.3,934.7 1521.3,982.2 1524.3,937.2 1527.3,980.5 1530.3,948.9 1533.3,978.5 1536.3,951.0 1539.3,976.5 1542.3,950.5 1545.3,970.8 1548.3,948.9 1551.3,962.1 1554.3,951.4 1557.3,957.5 1560.3,956.1 1563.3,959.5 1566.3,955.5 1569.3,965.1 1572.3,947.7 1575.3,965.8 1578.3,944.9 1581.3,961.0 1584.3,948.8 1587.3,956.3 1590.3,954.6 1593.3,965.1 1596.3,940.8 1599.3,977.6 1602.3,932.4 1605.3,976.6 1608.3,932.9 1611.3,979.7 1614.3,943.1 1617.3,982.4 1620.3,953.5 1623.3,982.4 1626.3,949.6 1629.3,980.8 1632.3,942.4 1635.3,978.7 1638.3,939.0 1641.3,976.2 1644.3,939.2 1647.3,972.6 1650.3,942.6 1653.3,974.6 1656.3,951.4 1659.3,978.8 1662.3,955.4 1665.3,979.4 1668.3,953.9 1671.3,980.8 1674.3,951.9 1677.3,983.4 1680.3,952.6 1683.3,986.5 1686.3,957.4 1689.3,984.5 1692.3,960.6 1695.3,982.7 1698.3,959.7 1701.3,972.7 1704.3,955.8 1707.3,968.7 1710.3,950.5 1713.3,968.3 1716.3,947.0 1719.3,971.9 1722.3,946.0 1725.3,973.4 1728.3,940.3 1731.3,972.3 1734.3,935.7 1737.3,968.8 1740.3,934.9 1743.3,966.5 1746.3,934.9 1749.3,974.1 1752.3,939.4 1755.3,976.4 1758.3,952.1 1761.3,973.1 1764.3,947.2 1767.3,959.8 1770.3,947.0 1773.3,952.8 1776.3,954.3 1779.3,956.7 1782.3,958.5 1785.3,969.2 1788.3,970.9 1791.3,970.3 1794.3,949.5 1797.3,970.3 1800.3,946.5 1803.3,970.3 1806.3,938.6 1809.3,970.3 1812.3,935.9 1815.3,969.5 1818.3,961.8 1821.3,968.3 1824.3,958.7 1827.3,967.3 1830.3,956.1 1833.3,967.3" fill="none" stroke="#37AD6B" stroke-width="13.0" stroke-linejoin="round" stroke-linecap="round"/>
<polyline points="288.3,966.9 291.3,994.0 294.3,965.0 297.3,997.1 300.3,963.2 303.3,1004.4 306.3,965.0 309.3,1015.3 312.3,955.6 315.3,1024.2 318.3,928.8 321.3,1022.7 324.3,919.2 327.3,995.8 330.3,926.6 333.3,982.8 336.3,951.0 339.3,983.4 342.3,952.2 345.3,987.7 348.3,963.2 351.3,986.4 354.3,971.5 357.3,986.4 360.3,975.0 363.3,986.0 366.3,976.1 369.3,985.1 372.3,976.4 375.3,991.6 378.3,975.5 381.3,999.8 384.3,969.5 387.3,1007.5 390.3,960.9 393.3,1006.9 396.3,961.7 399.3,993.9 402.3,964.6 405.3,990.2 408.3,970.1 411.3,989.4 414.3,970.6 417.3,989.4 420.3,968.0 423.3,989.7 426.3,969.2 429.3,990.6 432.3,970.6 435.3,1009.3 438.3,970.6 441.3,1017.1 444.3,969.5 447.3,1018.8 450.3,967.9 453.3,1013.3 456.3,972.1 459.3,1012.4 462.3,976.9 465.3,1012.7 468.3,978.3 471.3,1013.6 474.3,980.0 477.3,1015.1 480.3,981.8 483.3,1005.7 486.3,981.5 489.3,1000.7 492.3,980.7 495.3,999.3 498.3,979.7 501.3,1004.0 504.3,978.5 507.3,1001.5 510.3,977.3 513.3,1001.1 516.3,977.3 519.3,1005.1 522.3,978.1 525.3,1008.6 528.3,979.8 531.3,1011.4 534.3,984.1 537.3,1012.2 540.3,989.2 543.3,1016.1 546.3,989.4 549.3,1022.3 552.3,989.4 555.3,1024.6 558.3,988.1 561.3,1044.2 564.3,985.1 567.3,1045.2 570.3,980.8 573.3,1021.2 576.3,980.4 579.3,1015.3 582.3,981.8 585.3,1013.2 588.3,980.6 591.3,1026.0 594.3,977.6 597.3,1049.7 600.3,974.6 603.3,1043.2 606.3,978.4 609.3,1027.5 612.3,985.6 615.3,1033.0 618.3,988.9 621.3,1033.0 624.3,990.7 627.3,1029.6 630.3,994.7 633.3,1015.3 636.3,995.4 639.3,1010.9 642.3,995.4 645.3,1010.2 648.3,995.1 651.3,1009.6 654.3,994.4 657.3,1009.1 660.3,993.4 663.3,1008.8 666.3,992.2 669.3,1051.9 672.3,986.9 675.3,1052.0 678.3,982.6 681.3,1052.0 684.3,978.5 687.3,1026.2 690.3,974.3 693.3,1023.9 696.3,971.7 699.3,1010.5 702.3,973.5 705.3,1003.6 708.3,975.6 711.3,1016.1 714.3,978.1 717.3,1017.9 720.3,980.3 723.3,1018.3 726.3,981.5 729.3,1017.2 732.3,982.3 735.3,1021.1 738.3,982.9 741.3,1021.9 744.3,982.7 747.3,1018.9 750.3,980.7 753.3,1015.9 756.3,982.7 759.3,1040.4 762.3,982.3 765.3,1041.4 768.3,980.8 771.3,1035.9 774.3,973.1 777.3,1038.6 780.3,967.9 783.3,1046.2 786.3,981.4 789.3,1054.1 792.3,987.5 795.3,1053.8 798.3,988.6 801.3,1024.5 804.3,989.5 807.3,1037.6 810.3,990.7 813.3,1036.3 816.3,978.1 819.3,1018.6 822.3,974.5 825.3,1016.5 828.3,978.1 831.3,1014.6 834.3,987.6 837.3,1015.8 840.3,991.4 843.3,1017.5 846.3,994.9 849.3,1018.3 852.3,997.0 855.3,1023.1 858.3,997.7 861.3,1023.9 864.3,999.6 867.3,1022.5 870.3,989.4 873.3,1018.5 876.3,990.4 879.3,1015.2 882.3,992.5 885.3,1014.2 888.3,995.5 891.3,1014.2 894.3,998.5 897.3,1014.2 900.3,1001.5 903.3,1014.2 906.3,999.1 909.3,1016.2 912.3,996.7 915.3,1020.2 918.3,994.3 921.3,1024.7 924.3,992.1 927.3,1030.7 930.3,990.1 933.3,1033.9 936.3,988.4 939.3,1033.9 942.3,987.1 945.3,1042.5 948.3,989.5 951.3,1045.6 954.3,995.2 957.3,1051.5 960.3,994.0 963.3,1052.8 966.3,992.8 969.3,1053.4 972.3,994.0 975.3,1052.1 978.3,996.4 981.3,1017.8 984.3,998.8 987.3,1018.2 990.3,1001.2 993.3,1015.5 996.3,999.4 999.3,1011.2 1002.3,997.8 1005.3,1007.2 1008.3,996.1 1011.3,1005.6 1014.3,993.5 1017.3,1005.8 1020.3,990.0 1023.3,1005.4 1026.3,987.4 1029.3,1002.2 1032.3,986.7 1035.3,1003.4 1038.3,987.3 1041.3,1004.1 1044.3,988.0 1047.3,1004.7 1050.3,990.4 1053.3,1005.1 1056.3,990.0 1059.3,1005.4 1062.3,987.8 1065.3,1014.2 1068.3,985.3 1071.3,1014.2 1074.3,983.4 1077.3,1013.8 1080.3,986.0 1083.3,1013.1 1086.3,987.2 1089.3,1021.0 1092.3,984.6 1095.3,1030.9 1098.3,981.8 1101.3,1029.6 1104.3,978.8 1107.3,1010.1 1110.3,974.4 1113.3,1006.7 1116.3,977.2 1119.3,1008.7 1122.3,983.1 1125.3,1009.0 1128.3,984.3 1131.3,1013.0 1134.3,988.5 1137.3,1020.8 1140.3,1001.9 1143.3,1023.7 1146.3,1004.9 1149.3,1024.7 1152.3,1007.3 1155.3,1040.1 1158.3,1010.4 1161.3,1044.2 1164.3,1011.7 1167.3,1041.8 1170.3,1010.7 1173.3,1031.9 1176.3,1001.6 1179.3,1032.0 1182.3,994.2 1185.3,1038.1 1188.3,992.0 1191.3,1037.7 1194.3,990.5 1197.3,1036.1 1200.3,986.9 1203.3,1057.6 1206.3,990.5 1209.3,1064.2 1212.3,1013.7 1215.3,1065.5 1218.3,1027.5 1221.3,1065.7 1224.3,1029.5 1227.3,1066.3 1230.3,1003.7 1233.3,1066.8 1236.3,990.0 1239.3,1066.2 1242.3,984.6 1245.3,1065.6 1248.3,979.6 1251.3,1064.9 1254.3,977.4 1257.3,1060.3 1260.3,980.4 1263.3,1060.3 1266.3,981.4 1269.3,1060.4 1272.3,982.6 1275.3,1049.6 1278.3,980.2 1281.3,1041.7 1284.3,977.3 1287.3,1043.5 1290.3,977.3 1293.3,1038.1 1296.3,969.7 1299.3,1011.3 1302.3,967.7 1305.3,1011.0 1308.3,968.9 1311.3,1010.8 1314.3,975.5 1317.3,1010.6 1320.3,976.1 1323.3,1010.4 1326.3,971.8 1329.3,1010.5 1332.3,973.3 1335.3,1010.7 1338.3,976.3 1341.3,1010.8 1344.3,985.6 1347.3,1011.1 1350.3,982.2 1353.3,1011.3 1356.3,980.4 1359.3,1037.7 1362.3,987.9 1365.3,1064.3 1368.3,1000.5 1371.3,1066.9 1374.3,1006.8 1377.3,1067.2 1380.3,1007.2 1383.3,1066.9 1386.3,1006.5 1389.3,1064.3 1392.3,1002.1 1395.3,1053.0 1398.3,991.2 1401.3,1044.6 1404.3,982.3 1407.3,1051.9 1410.3,982.3 1413.3,1049.6 1416.3,995.4 1419.3,1032.2 1422.3,995.4 1425.3,1020.7 1428.3,998.4 1431.3,1022.5 1434.3,1002.0 1437.3,1032.8 1440.3,1004.5 1443.3,1033.5 1446.3,1004.2 1449.3,1030.2 1452.3,996.4 1455.3,1021.6 1458.3,995.0 1461.3,1017.0 1464.3,994.3 1467.3,1011.1 1470.3,987.4 1473.3,1008.7 1476.3,981.7 1479.3,1008.2 1482.3,979.2 1485.3,1008.2 1488.3,984.8 1491.3,1011.2 1494.3,992.1 1497.3,1012.3 1500.3,988.7 1503.3,1011.4 1506.3,986.7 1509.3,1013.8 1512.3,987.9 1515.3,1018.5 1518.3,990.8 1521.3,1022.5 1524.3,996.7 1527.3,1020.6 1530.3,995.5 1533.3,1007.7 1536.3,988.8 1539.3,1005.2 1542.3,981.8 1545.3,1003.7 1548.3,974.9 1551.3,995.3 1554.3,970.6 1557.3,993.1 1560.3,969.4 1563.3,993.0 1566.3,974.8 1569.3,997.3 1572.3,979.7 1575.3,1025.6 1578.3,974.9 1581.3,1023.5 1584.3,967.6 1587.3,1016.5 1590.3,968.8 1593.3,1017.8 1596.3,988.2 1599.3,1021.8 1602.3,991.6 1605.3,1024.4 1608.3,991.4 1611.3,1026.0 1614.3,995.3 1617.3,1035.9 1620.3,1002.4 1623.3,1038.3 1626.3,1003.6 1629.3,1045.1 1632.3,998.8 1635.3,1054.0 1638.3,991.2 1641.3,1053.2 1644.3,986.9 1647.3,1048.1 1650.3,985.0 1653.3,1044.6 1656.3,990.1 1659.3,1036.9 1662.3,993.0 1665.3,1052.6 1668.3,995.4 1671.3,1058.3 1674.3,997.0 1677.3,1058.6 1680.3,997.5 1683.3,1037.4 1686.3,1002.8 1689.3,1025.4 1692.3,999.2 1695.3,1034.7 1698.3,983.2 1701.3,1039.4 1704.3,982.0 1707.3,1041.9 1710.3,980.9 1713.3,1041.3 1716.3,981.9 1719.3,1033.5 1722.3,987.5 1725.3,1024.8 1728.3,990.2 1731.3,1025.6 1734.3,991.4 1737.3,1026.9 1740.3,990.9 1743.3,1023.3 1746.3,990.0 1749.3,1018.5 1752.3,990.7 1755.3,1017.2 1758.3,989.6 1761.3,1017.2 1764.3,977.8 1767.3,1015.6 1770.3,966.3 1773.3,1010.1 1776.3,964.3 1779.3,1012.1 1782.3,970.5 1785.3,1011.9 1788.3,983.3 1791.3,1012.9 1794.3,983.3 1797.3,1046.5 1800.3,982.9 1803.3,1049.5 1806.3,982.3 1809.3,1048.6 1812.3,981.7 1815.3,1054.3 1818.3,981.1 1821.3,1056.8 1824.3,980.5 1827.3,1055.1 1830.3,980.3 1833.3,1055.1" fill="none" stroke="#B177DE" stroke-width="13.0" stroke-linejoin="round" stroke-linecap="round"/>
<polyline points="288.3,1047.8 291.3,1052.0 294.3,1048.3 297.3,1053.1 300.3,1048.9 303.3,1054.2 306.3,1049.2 309.3,1055.6 312.3,1048.7 315.3,1057.1 318.3,1048.2 321.3,1058.6 324.3,1048.1 327.3,1059.4 330.3,1049.3 333.3,1060.0 336.3,1050.5 339.3,1060.7 342.3,1051.9 345.3,1061.4 348.3,1053.4 351.3,1062.4 354.3,1054.5 357.3,1064.1 360.3,1055.3 363.3,1066.0 366.3,1057.3 369.3,1068.0 372.3,1059.0 375.3,1071.2 378.3,1060.3 381.3,1074.6 384.3,1061.8 387.3,1078.0 390.3,1064.4 393.3,1081.4 396.3,1066.3 399.3,1082.4 402.3,1067.0 405.3,1083.1 408.3,1066.5 411.3,1081.7 414.3,1063.9 417.3,1080.1 420.3,1060.8 423.3,1079.3 426.3,1057.4 429.3,1081.5 432.3,1056.1 435.3,1089.5 438.3,1056.9 441.3,1090.8 444.3,1060.9 447.3,1080.9 450.3,1063.2 453.3,1079.5 456.3,1064.3 459.3,1080.0 462.3,1063.3 465.3,1079.2 468.3,1061.7 471.3,1076.1 474.3,1055.5 477.3,1066.3 480.3,1051.5 483.3,1062.4 486.3,1052.7 489.3,1064.9 492.3,1053.9 495.3,1067.6 498.3,1054.5 501.3,1080.7 504.3,1054.8 507.3,1088.4 510.3,1056.0 513.3,1092.6 516.3,1064.5 519.3,1090.8 522.3,1065.7 525.3,1076.5 528.3,1061.0 531.3,1072.7 534.3,1054.5 537.3,1071.1 540.3,1054.5 543.3,1070.2 546.3,1054.5 549.3,1071.3 552.3,1057.2 555.3,1073.1 558.3,1065.9 561.3,1079.5 564.3,1068.2 567.3,1083.1 570.3,1070.6 573.3,1086.7 576.3,1073.0 579.3,1088.6 582.3,1076.0 585.3,1089.2 588.3,1079.0 591.3,1089.8 594.3,1078.4 597.3,1086.0 600.3,1073.4 603.3,1084.8 606.3,1066.8 609.3,1088.2 612.3,1060.7 615.3,1090.4 618.3,1076.3 621.3,1113.1 624.3,1092.5 627.3,1153.1 630.3,1114.1 633.3,1158.5 636.3,1145.8 639.3,1160.2 642.3,1147.0 645.3,1158.8 648.3,1146.2 651.3,1155.0 654.3,1145.5 657.3,1150.8 660.3,1136.4 663.3,1146.0 666.3,1129.7 669.3,1141.3 672.3,1125.3 675.3,1137.4 678.3,1121.8 681.3,1133.2 684.3,1116.9 687.3,1128.5 690.3,1114.6 693.3,1125.0 696.3,1114.7 699.3,1134.9 702.3,1117.1 705.3,1138.3 708.3,1118.2 711.3,1133.3 714.3,1116.8 717.3,1123.7 720.3,1116.7 723.3,1126.2 726.3,1119.7 729.3,1129.8 732.3,1122.6 735.3,1135.1 738.3,1126.1 741.3,1144.7 744.3,1128.0 747.3,1145.0 750.3,1128.0 753.3,1141.9 756.3,1128.0 759.3,1137.1 762.3,1128.0 765.3,1132.4 768.3,1127.7 771.3,1133.6 774.3,1127.1 777.3,1134.8 780.3,1126.5 783.3,1135.1 786.3,1125.5 789.3,1134.1 792.3,1124.5 795.3,1133.2 798.3,1123.6 801.3,1133.3 804.3,1124.4 807.3,1137.0 810.3,1125.9 813.3,1140.8 816.3,1131.0 819.3,1144.3 822.3,1135.1 825.3,1144.0 828.3,1132.7 831.3,1143.1 834.3,1132.7 837.3,1142.5 840.3,1132.7 843.3,1141.9 846.3,1131.1 849.3,1140.1 852.3,1123.7 855.3,1135.6 858.3,1120.0 861.3,1135.2 864.3,1118.0 867.3,1133.4 870.3,1115.8 873.3,1128.6 876.3,1116.8 879.3,1134.2 882.3,1119.7 885.3,1143.2 888.3,1125.7 891.3,1147.6 894.3,1121.4 897.3,1148.1 900.3,1119.9 903.3,1131.6 906.3,1119.0 909.3,1130.7 912.3,1118.7 915.3,1128.0 918.3,1113.6 921.3,1127.3 924.3,1114.0 927.3,1131.3 930.3,1118.7 933.3,1134.8 936.3,1125.0 939.3,1137.9 942.3,1131.0 945.3,1141.8 948.3,1132.7 951.3,1141.3 954.3,1133.7 957.3,1144.2 960.3,1134.7 963.3,1148.2 966.3,1136.3 969.3,1148.6 972.3,1136.5 975.3,1143.4 978.3,1136.5 981.3,1144.0 984.3,1136.0 987.3,1144.5 990.3,1135.4 993.3,1157.5 996.3,1138.4 999.3,1158.5 1002.3,1137.5 1005.3,1181.0 1008.3,1137.5 1011.3,1187.8 1014.3,1143.8 1017.3,1184.0 1020.3,1150.5 1023.3,1174.5 1026.3,1144.6 1029.3,1174.3 1032.3,1136.2 1035.3,1168.7 1038.3,1132.6 1041.3,1197.5 1044.3,1137.4 1047.3,1196.9 1050.3,1151.0 1053.3,1186.6 1056.3,1142.2 1059.3,1177.8 1062.3,1141.4 1065.3,1172.3 1068.3,1139.6 1071.3,1160.5 1074.3,1136.0 1077.3,1153.2 1080.3,1131.6 1083.3,1150.4 1086.3,1128.6 1089.3,1145.8 1092.3,1129.0 1095.3,1143.1 1098.3,1127.3 1101.3,1137.1 1104.3,1125.7 1107.3,1136.4 1110.3,1127.3 1113.3,1140.3 1116.3,1131.0 1119.3,1142.2 1122.3,1132.3 1125.3,1142.2 1128.3,1130.8 1131.3,1142.2 1134.3,1132.5 1137.3,1158.8 1140.3,1135.2 1143.3,1162.0 1146.3,1135.4 1149.3,1160.0 1152.3,1133.0 1155.3,1174.5 1158.3,1128.6 1161.3,1174.7 1164.3,1124.2 1167.3,1163.7 1170.3,1126.9 1173.3,1152.8 1176.3,1131.9 1179.3,1149.1 1182.3,1131.2 1185.3,1146.0 1188.3,1129.7 1191.3,1146.8 1194.3,1130.7 1197.3,1147.8 1200.3,1135.7 1203.3,1148.1 1206.3,1133.2 1209.3,1147.0 1212.3,1131.2" fill="none" stroke="#CC9900" stroke-width="13.0" stroke-linejoin="round" stroke-linecap="round"/>
</g>
<line x1="293" y1="71.2" x2="411" y2="71.2" stroke="#515151" stroke-width="14" stroke-linecap="round"/>
<text transform="scale(0.8500,1)" x="544.7 581.0 614.7 639.2 684.7 713.7" y="91.5" font-size="54.0" font-family="'Liberation Serif','Noto Serif CJK SC',serif" stroke="#000" stroke-width="1">V=1m/s</text>
<line x1="293" y1="135.7" x2="411" y2="135.7" stroke="#F14040" stroke-width="14" stroke-linecap="round"/>
<text transform="scale(0.8500,1)" x="544.7 581.0 614.7 639.2 684.7 713.7" y="156.0" font-size="54.0" font-family="'Liberation Serif','Noto Serif CJK SC',serif" stroke="#000" stroke-width="1">V=3m/s</text>
<line x1="293" y1="200.2" x2="411" y2="200.2" stroke="#1A6FDF" stroke-width="14" stroke-linecap="round"/>
<text transform="scale(0.8500,1)" x="544.7 581.0 614.7 639.2 684.7 713.7" y="220.5" font-size="54.0" font-family="'Liberation Serif','Noto Serif CJK SC',serif" stroke="#000" stroke-width="1">V=5m/s</text>
<line x1="293" y1="264.7" x2="411" y2="264.7" stroke="#37AD6B" stroke-width="14" stroke-linecap="round"/>
<text transform="scale(0.8500,1)" x="544.7 581.0 614.7 639.2 684.7 713.7" y="285.0" font-size="54.0" font-family="'Liberation Serif','Noto Serif CJK SC',serif" stroke="#000" stroke-width="1">V=7m/s</text>
<line x1="293" y1="329.2" x2="411" y2="329.2" stroke="#B177DE" stroke-width="14" stroke-linecap="round"/>
<text transform="scale(0.8500,1)" x="544.7 581.0 614.7 639.2 684.7 713.7" y="349.5" font-size="54.0" font-family="'Liberation Serif','Noto Serif CJK SC',serif" stroke="#000" stroke-width="1">V=9m/s</text>
<line x1="293" y1="393.7" x2="411" y2="393.7" stroke="#CC9900" stroke-width="14" stroke-linecap="round"/>
<text transform="scale(0.8500,1)" x="544.7 581.0 614.7 646.7 671.2 716.7 745.7" y="414.0" font-size="54.0" font-family="'Liberation Serif','Noto Serif CJK SC',serif" stroke="#000" stroke-width="1">V=11m/s</text>
<text transform="scale(0.8500,1)" x="1543.5 1587.1 1623.1 1650.1 1684.7 1717.7 1744.7 1780.7 1804.0 1869.3 1900.9 1932.4 1960.9" y="92.0 92.0 92.0 92.0 92.0 92.0 92.0 92.0 95.8 92.0 92.0 92.0 92.0" font-size="54.0" font-family="'Liberation Serif','Noto Serif CJK SC',serif" stroke="#000" stroke-width="1">Material：304L</text>
<text transform="scale(0.8500,1)" x="1552.5 1585.6 1623.1 1648.6 1686.1 1717.7 1743.2 1774.7 1804.0 1869.3 1894.9 1938.4 1954.9 2002.2 2021.0 2060.0 2085.5 2127.6" y="156.2 156.2 156.2 156.2 156.2 156.2 156.2 156.2 160.0 156.2 156.2 156.2 156.2 156.2 156.2 156.2 156.2 156.2" font-size="54.0" font-family="'Liberation Serif','Noto Serif CJK SC',serif" stroke="#000" stroke-width="1">Solution：4wt% NaCl</text>
<text transform="scale(0.8500,1)" x="1548.0 1591.6 1618.6 1641.1 1681.7 1717.7 1744.7 1779.2 1804.0 1869.3 1900.9 1924.9 1956.4" y="220.4 220.4 220.4 220.4 220.4 220.4 220.4 220.4 224.2 220.4 220.4 220.4 220.4" font-size="54.0" font-family="'Liberation Serif','Noto Serif CJK SC',serif" stroke="#000" stroke-width="1">Diameter：10mm</text>
<text transform="scale(0.9000,1)" x="162.7 193.7 228.7 261.7" y="55.9" font-size="60.5" font-family="'Liberation Serif','Noto Serif CJK SC',serif" stroke="#000" stroke-width="0.5">0.15</text>
<text transform="scale(0.9000,1)" x="162.7 193.7 228.7 261.7" y="233.6" font-size="60.5" font-family="'Liberation Serif','Noto Serif CJK SC',serif" stroke="#000" stroke-width="0.5">0.10</text>
<text transform="scale(0.9000,1)" x="162.7 193.7 228.7 261.7" y="411.4" font-size="60.5" font-family="'Liberation Serif','Noto Serif CJK SC',serif" stroke="#000" stroke-width="0.5">0.05</text>
<text transform="scale(0.9000,1)" x="162.7 193.7 228.7 261.7" y="589.1" font-size="60.5" font-family="'Liberation Serif','Noto Serif CJK SC',serif" stroke="#000" stroke-width="0.5">0.00</text>
<text transform="scale(0.9000,1)" x="127.8 162.7 193.7 228.7 261.7" y="766.8" font-size="60.5" font-family="'Liberation Serif','Noto Serif CJK SC',serif" stroke="#000" stroke-width="0.5">−0.05</text>
<text transform="scale(0.9000,1)" x="127.8 162.7 193.7 228.7 261.7" y="944.5" font-size="60.5" font-family="'Liberation Serif','Noto Serif CJK SC',serif" stroke="#000" stroke-width="0.5">−0.10</text>
<text transform="scale(0.9000,1)" x="127.8 162.7 193.7 228.7 261.7" y="1122.3" font-size="60.5" font-family="'Liberation Serif','Noto Serif CJK SC',serif" stroke="#000" stroke-width="0.5">−0.15</text>
<text transform="scale(0.9000,1)" x="127.8 162.7 193.7 228.7 261.7" y="1300.0" font-size="60.5" font-family="'Liberation Serif','Noto Serif CJK SC',serif" stroke="#000" stroke-width="0.5">−0.20</text>
<text transform="scale(0.9000,1)" x="307.7" y="1353.0" font-size="60.5" font-family="'Liberation Serif','Noto Serif CJK SC',serif" stroke="#000" stroke-width="0.5">0</text>
<text transform="scale(0.9000,1)" x="446.1 479.1 512.1" y="1353.0" font-size="60.5" font-family="'Liberation Serif','Noto Serif CJK SC',serif" stroke="#000" stroke-width="0.5">100</text>
<text transform="scale(0.9000,1)" x="617.5 650.5 683.5" y="1353.0" font-size="60.5" font-family="'Liberation Serif','Noto Serif CJK SC',serif" stroke="#000" stroke-width="0.5">200</text>
<text transform="scale(0.9000,1)" x="789.0 822.0 855.0" y="1353.0" font-size="60.5" font-family="'Liberation Serif','Noto Serif CJK SC',serif" stroke="#000" stroke-width="0.5">300</text>
<text transform="scale(0.9000,1)" x="960.4 993.4 1026.4" y="1353.0" font-size="60.5" font-family="'Liberation Serif','Noto Serif CJK SC',serif" stroke="#000" stroke-width="0.5">400</text>
<text transform="scale(0.9000,1)" x="1131.9 1164.9 1197.9" y="1353.0" font-size="60.5" font-family="'Liberation Serif','Noto Serif CJK SC',serif" stroke="#000" stroke-width="0.5">500</text>
<text transform="scale(0.9000,1)" x="1303.3 1336.3 1369.3" y="1353.0" font-size="60.5" font-family="'Liberation Serif','Noto Serif CJK SC',serif" stroke="#000" stroke-width="0.5">600</text>
<text transform="scale(0.9000,1)" x="1474.8 1507.8 1540.8" y="1353.0" font-size="60.5" font-family="'Liberation Serif','Noto Serif CJK SC',serif" stroke="#000" stroke-width="0.5">700</text>
<text transform="scale(0.9000,1)" x="1646.2 1679.2 1712.2" y="1353.0" font-size="60.5" font-family="'Liberation Serif','Noto Serif CJK SC',serif" stroke="#000" stroke-width="0.5">800</text>
<text transform="scale(0.9000,1)" x="1817.7 1850.7 1883.7" y="1353.0" font-size="60.5" font-family="'Liberation Serif','Noto Serif CJK SC',serif" stroke="#000" stroke-width="0.5">900</text>
<text transform="scale(0.9000,1)" x="1972.6 2005.6 2038.6 2071.6" y="1353.0" font-size="60.5" font-family="'Liberation Serif','Noto Serif CJK SC',serif" stroke="#000" stroke-width="0.5">1000</text>
<text transform="scale(0.8500,1)" x="1064.0 1117.9 1142.0 1196.0 1244.9 1292.5 1323.9 1365.1" y="1428.3 1428.3 1428.3 1428.3 1428.3 1422.6 1428.3 1422.6" font-size="71.5" font-family="'Liberation Serif','Noto Serif CJK SC',serif" >Time (s)</text>
<g transform="translate(74.0,806.5) rotate(-90)"><text transform="scale(0.8500,1)" x="1.1 45.1 95.1 131.1 171.1 221.1 263.1 299.1 347.1 390.1 437.6 457.2 510.3" y="0.0 0.0 0.0 0.0 0.0 0.0 0.0 0.0 0.0 0.0 -5.7 0.0 -5.7" font-size="71.5" font-family="'Liberation Serif','Noto Serif CJK SC',serif" >Potential (V)</text></g>
</svg>
</body></html>
